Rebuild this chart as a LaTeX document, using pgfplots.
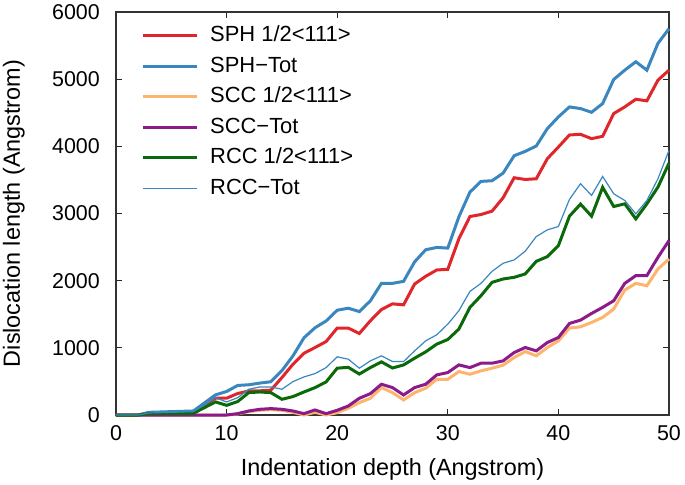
\documentclass[border=0pt]{standalone}
\usepackage{fontspec}
\setmainfont{Liberation Sans}
\usepackage{pgfplots}
\usepackage{pgfplotstable}
\pgfplotsset{compat=1.18}

\definecolor{cred}{RGB}{224,38,43}
\definecolor{cblue}{RGB}{58,135,192}
\definecolor{corange}{RGB}{253,180,108}
\definecolor{cpurple}{RGB}{139,26,139}
\definecolor{cgreen}{RGB}{10,106,10}

% x  sph  sphtot  scc  scctot  rcc  rcctot
\pgfplotstableread{
x  sph   sphtot scc   scctot rcc   rcctot
0  0     0      0     0      0     0
1  0     0      0     0      0     0
2  0     0      0     0      0     0
3  30    40     0     0      20    30
4  35    45     0     0      20    35
5  40    50     0     0      20    40
6  45    55     0     0      20    45
7  50    60     0     0      25    50
8  150   180    0     0      110   150
9  250   300    0     0      195   258
10 250   350    0     0      144   194
11 320   440    15    20     200   258
12 358   450    50    60     333   383
13 360   475    70    85     343   418
14 370   495    80    95     333   418
15 557   660    70    85     234   383
16 756   880    40    60     274   497
17 920   1150   0     20     343   567
18 1005  1300   40    75     408   617
19 1094  1400   0     20     493   706
20 1294  1560   34    70     697   866
21 1294  1590   100   134    710   831
22 1214  1540   184   249    610   697
23 1403  1700   249   318    706   806
24 1570  1960   408   458    791   881
25 1655  1960   333   408    700   796
26 1640  1990   224   298    745   796
27 1950  2280   333   408    846   955
28 2065  2460   398   458    940   1104
29 2159  2495   532   597    1055  1194
30 2169  2485   532   632    1124  1353
31 2622  2950   647   746    1279  1552
32 2955  3318   607   706    1602  1840
33 2985  3478   657   771    1776  1960
34 3035  3488   697   771    1975  2139
35 3234  3601   741   806    2025  2259
36 3532  3860   856   930    2050  2309
37 3507  3925   945   1005   2100  2438
38 3517  4005   881   955    2288  2657
39 3816  4264   1005  1079   2358  2756
40 3990  4438   1104  1154   2522  2806
41 4169  4587   1294  1363   2960  3210
42 4179  4562   1313  1413   3140  3443
43 4114  4507   1378  1512   2960  3269
44 4149  4637   1453  1602   3390  3552
45 4488  4995   1577  1701   3104  3294
46 4587  5134   1861  1960   3144  3194
47 4701  5259   1960  2075   2920  2995
48 4677  5134   1925  2075   3144  3194
49 4985  5533   2174  2348   3393  3517
50 5134  5751   2323  2597   3750  3940
}\dislen

\begin{document}
\begin{tikzpicture}
\begin{axis}[
    name=main,
    scale only axis,
    width=553bp, height=403bp,
    xmin=0, xmax=50, ymin=0, ymax=6000,
    xtick={0,10,20,30,40,50},
    ytick={0,1000,2000,3000,4000,5000,6000},
    minor tick num=0,
    tick align=inside,
    major tick length=6bp,
    tick style={black!85, line width=1bp},
    axis line style={black!80, line width=1.3bp},
    tick label style={font=\fontsize{21.5}{25}\selectfont},
    xticklabel style={inner sep=0pt, anchor=north, yshift=-10bp},
    yticklabel style={inner sep=0pt, anchor=east, xshift=-16bp},
    /pgf/number format/assume math mode=true,
    /pgf/number format/set thousands separator={},
    scaled y ticks=false,
    label style={font=\fontsize{23.5}{28}\selectfont},
    xlabel={Indentation depth (Angstrom)},
    ylabel={Dislocation length (Angstrom)},
    xlabel style={inner sep=0pt, at={(axis description cs:0.5,-0.1489)}, anchor=base},
    ylabel style={inner sep=0pt, at={(axis description cs:-0.1736,0.5)}, anchor=base},
    clip=false,
    legend cell align=left,
    legend style={draw=none, fill=none, inner sep=0pt,
        at={(axis description cs:0.0452,0.966)}, anchor=north west,
        font=\fontsize{22}{26}\selectfont,
        nodes={inner sep=0pt, text height=16bp, text depth=4bp},
        row sep=10.5bp, column sep=12bp},
    legend image code/.code={\draw[#1] (0bp,0bp) -- (54bp,0bp);},
]
\addplot[cred, line width=3bp] table[x=x, y=sph] {\dislen};
\addlegendentry{SPH 1/2<111>}
\addplot[cblue, line width=3bp] table[x=x, y=sphtot] {\dislen};
\addlegendentry{SPH−Tot}
\addplot[corange, line width=3bp] table[x=x, y=scc] {\dislen};
\addlegendentry{SCC 1/2<111>}
\addplot[cpurple, line width=3bp] table[x=x, y=scctot] {\dislen};
\addlegendentry{SCC−Tot}
\addplot[cgreen, line width=3bp] table[x=x, y=rcc] {\dislen};
\addlegendentry{RCC 1/2<111>}
\addplot[cblue, line width=1.2bp] table[x=x, y=rcctot] {\dislen};
\addlegendentry{RCC−Tot}
\end{axis}
\pgfresetboundingbox
\useasboundingbox ([shift={(-116bp,-70bp)}]main.south west) rectangle ([shift={(16bp,12bp)}]main.north east);
\end{tikzpicture}
\end{document}
